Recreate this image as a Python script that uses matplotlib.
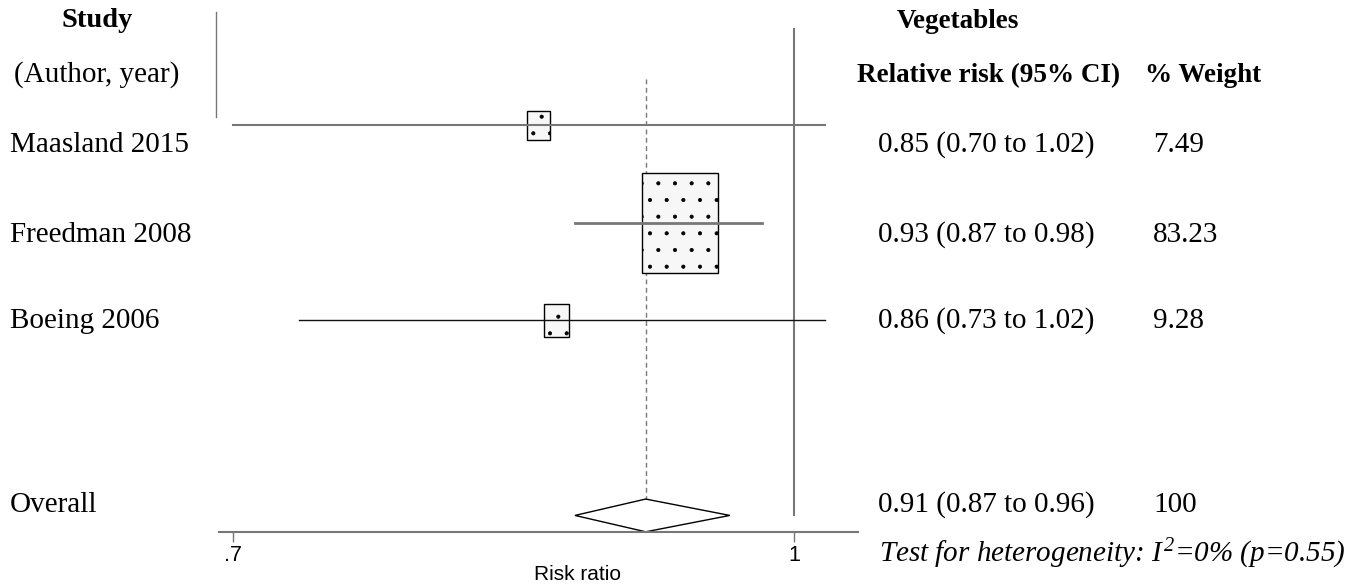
import numpy as np
import matplotlib
matplotlib.use("Agg")
import matplotlib.pyplot as plt
from matplotlib.patches import Rectangle, Polygon
from matplotlib.lines import Line2D

# Studien und Effektschaetzer (Risk ratio mit 95%-KI)
studien = ["Maasland 2015", "Freedman 2008", "Boeing 2006"]
rr = [0.85, 0.93, 0.86]
ki_unten = [0.70, 0.87, 0.73]
ki_oben = [1.02, 0.98, 1.02]
gewicht = [7.49, 83.23, 9.28]

gesamt_rr = 0.91
gesamt_unten = 0.87
gesamt_oben = 0.96
gesamt_gewicht = 100

tick_werte = [0.7, 1.0]
tick_labels = [".7", "1"]

W, H = 1361, 588
plt.rcParams['font.family'] = ['Liberation Serif', 'DejaVu Serif']
plt.rcParams['mathtext.fontset'] = 'custom'
plt.rcParams['mathtext.rm'] = 'Liberation Serif:italic'
plt.rcParams['mathtext.it'] = 'Liberation Serif:italic'
plt.rcParams['hatch.color'] = 'black'
plt.rcParams['hatch.linewidth'] = 0.5


def px(x, y):
    # Pixel (von oben gezaehlt) -> Figure-Koordinaten
    return x / W, 1 - y / H


fig = plt.figure(figsize=(W / 100, H / 100), dpi=100)
ax = fig.add_axes([219 / W, (H - 532) / H, 639 / W, 504 / H])
ax.set_xscale('log')
ax.set_xlim(0.6938, 1.0415)
ax.set_ylim(5.17, 0)

grau = '#777777'
zeilen = [1, 2, 3]
gesamt_zeile = 5
ln_px = 561 / np.log(1 / 0.7)   # Pixel pro ln-Einheit
zeile_px = 97.3                 # Pixel pro Zeile

# Nulllinie bei 1 und Linie beim Gesamteffekt
ax.plot([1, 1], [0, gesamt_zeile], color=grau, lw=1.5, zorder=1)
ax.plot([gesamt_rr, gesamt_rr], [0.527, gesamt_zeile - 0.164], color=grau,
        lw=1.0, dashes=(3.5, 2.5), zorder=1)

ki_farben = [grau, grau, '#111111']
ki_breiten = [1.5, 2.0, 1.0]
for i, z in enumerate(zeilen):
    # Kastenflaeche proportional zum Gewicht
    b = 8.33 * np.sqrt(gewicht[i]) / 2 / ln_px
    h = 10.85 * np.sqrt(gewicht[i]) / zeile_px
    x0 = rr[i] * np.exp(-b)
    x1 = rr[i] * np.exp(b)
    ax.add_patch(Rectangle((x0, z - h / 2), x1 - x0, h, facecolor='#f7f7f7',
                           edgecolor='black', lw=1.0, hatch='.', zorder=2))
    ax.plot([ki_unten[i], ki_oben[i]], [z, z], color=ki_farben[i],
            lw=ki_breiten[i], zorder=3)

# Raute fuer den gepoolten Schaetzer
dh = 0.168
ax.add_patch(Polygon([(gesamt_unten, gesamt_zeile), (gesamt_rr, gesamt_zeile - dh),
                      (gesamt_oben, gesamt_zeile), (gesamt_rr, gesamt_zeile + dh)],
                     closed=True, facecolor='white', edgecolor='black', lw=1.0,
                     zorder=2, clip_on=False))

for s in ['left', 'top', 'right']:
    ax.spines[s].set_visible(False)
ax.spines['bottom'].set_color(grau)
ax.spines['bottom'].set_linewidth(1.5)
ax.set_yticks([])
ax.set_xticks(tick_werte)
ax.set_xticklabels(tick_labels)
ax.xaxis.set_minor_locator(matplotlib.ticker.NullLocator())
ax.tick_params(axis='x', length=7.5, width=1, color=grau, pad=2, labelsize=15.5)
for t in ax.get_xticklabels():
    t.set_family('Liberation Sans')
fig.text(*px(578, 580), "Risk ratio", ha='center', va='baseline',
         family='Liberation Sans', fontsize=15)

# Trennlinie neben der Studienspalte
fig.add_artist(Line2D([216 / W, 216 / W], [1 - 12 / H, 1 - 117 / H],
                      transform=fig.transFigure, color=grau, lw=1.0))

fs = 21
fb = 19.5
fig.text(*px(97, 27), "Study", ha='center', va='baseline', fontsize=20.5, weight='bold')
fig.text(*px(14, 82), "(Author, year)", ha='left', va='baseline', fontsize=fs)
fig.text(*px(897, 28), "Vegetables", ha='left', va='baseline', fontsize=fb, weight='bold')
fig.text(*px(857, 82), "Relative risk (95% CI)", ha='left', va='baseline',
         fontsize=fb, weight='bold')
fig.text(*px(1145, 82), "% Weight", ha='left', va='baseline', fontsize=fb, weight='bold')

text_basis = [152, 242, 328]
for i, y in enumerate(text_basis):
    fig.text(*px(10, y), studien[i], ha='left', va='baseline', fontsize=fs)
    fig.text(*px(878, y), f"{rr[i]:.2f} ({ki_unten[i]:.2f} to {ki_oben[i]:.2f})",
             ha='left', va='baseline', fontsize=fs)
    fig.text(*px(1153, y), f"{gewicht[i]:.2f}", ha='left', va='baseline', fontsize=fs)

fig.text(*px(10, 512), "Overall", ha='left', va='baseline', fontsize=fs)
fig.text(*px(878, 512), f"{gesamt_rr:.2f} ({gesamt_unten:.2f} to {gesamt_oben:.2f})",
         ha='left', va='baseline', fontsize=fs)
fig.text(*px(1153, 512), f"{gesamt_gewicht}", ha='left', va='baseline', fontsize=fs)

fig.text(*px(1345, 562), r"Test for heterogeneity: $I^2$=0% (p=0.55)",
         ha='right', va='baseline', fontsize=fs, style='italic')

fig.savefig("out.png", dpi=100)
